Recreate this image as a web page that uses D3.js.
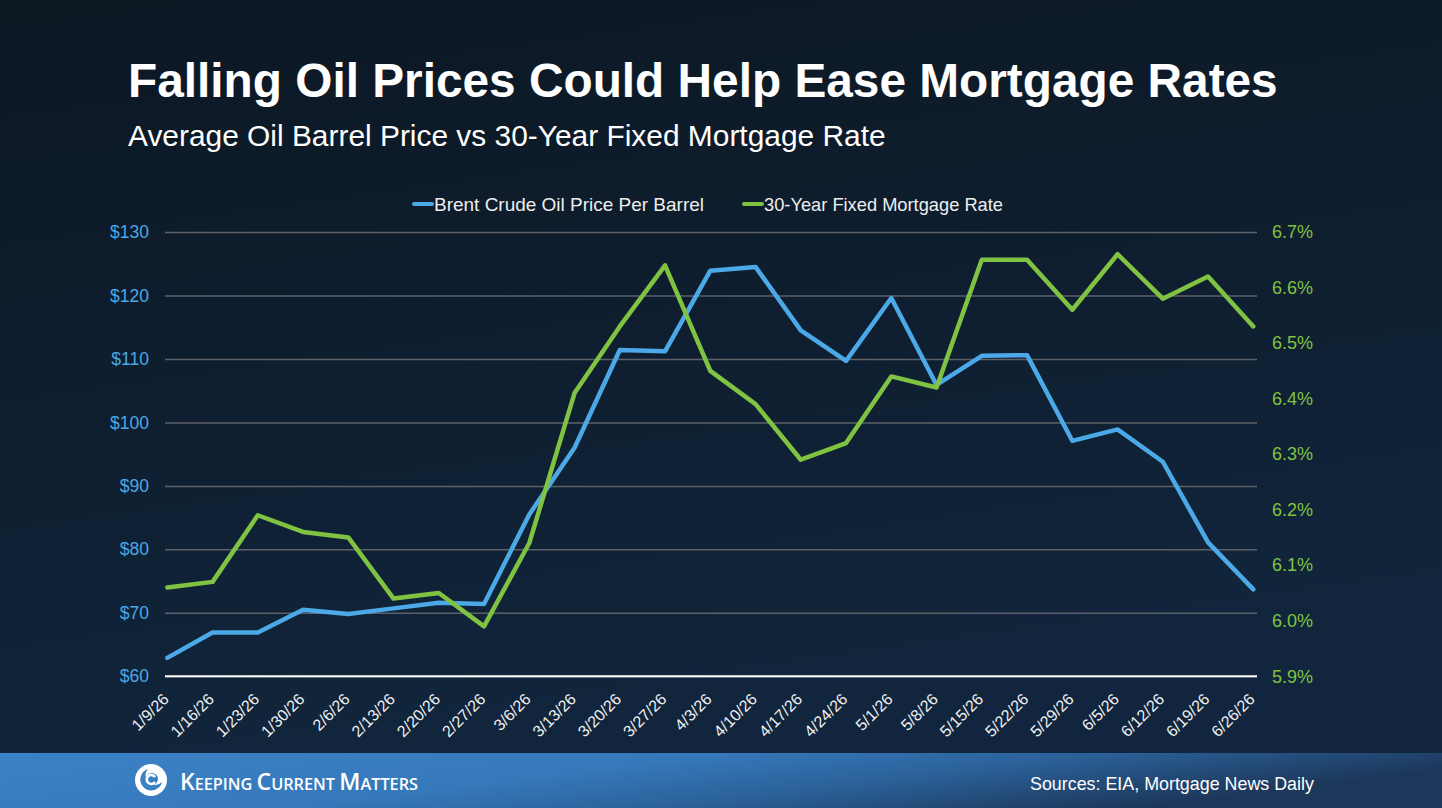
<!DOCTYPE html>
<html>
<head>
<meta charset="utf-8">
<script src="https://cdn.jsdelivr.net/npm/d3@7"></script>
<style>
	html, body { margin: 0; padding: 0; background: #0e1c2a; }
	svg { display: block; }
</style>
</head>
<body>
<svg id="chart" width="1442" height="808"></svg>
<script>
'use strict';

// weekly dates on the x axis
const dates = ['1/9/26', '1/16/26', '1/23/26', '1/30/26', '2/6/26', '2/13/26', '2/20/26', '2/27/26',
	'3/6/26', '3/13/26', '3/20/26', '3/27/26', '4/3/26', '4/10/26', '4/17/26', '4/24/26',
	'5/1/26', '5/8/26', '5/15/26', '5/22/26', '5/29/26', '6/5/26', '6/12/26', '6/19/26', '6/26/26'];

// Brent crude, $ per barrel (left axis)
const oilPrice = [62.9, 66.9, 66.9, 70.5, 69.8, 70.7, 71.6, 71.4,
	85.5, 96.0, 111.4, 111.2, 123.9, 124.5, 114.5, 109.7,
	119.6, 105.9, 110.5, 110.6, 97.1, 98.9, 93.8, 81.1, 73.7];

// 30-year fixed mortgage rate, % (right axis)
const mortgageRate = [6.06, 6.07, 6.19, 6.16, 6.15, 6.04, 6.05, 5.99,
	6.14, 6.41, 6.53, 6.64, 6.45, 6.39, 6.29, 6.32,
	6.44, 6.42, 6.65, 6.65, 6.56, 6.66, 6.58, 6.62, 6.53];

const oilTicks = [60, 70, 80, 90, 100, 110, 120, 130];
const rateTicks = [5.9, 6.0, 6.1, 6.2, 6.3, 6.4, 6.5, 6.6, 6.7];

const seriesNames = ['Brent Crude Oil Price Per Barrel', '30-Year Fixed Mortgage Rate'];

const W = 1442, H = 808;
const BLUE = '#4aa9e6', GREEN = '#80c241';
const FONT = '"Liberation Sans", Arial, Helvetica, sans-serif';

const plot = { left: 165, right: 1257, top: 232, bottom: 676.3 };

const svg = d3.select('#chart');
const defs = svg.append('defs');

/** background */
let bg = defs.append('linearGradient').attr('id', 'bgGrad')
	.attr('x1', 0).attr('y1', 0).attr('x2', 0.25).attr('y2', 1);
bg.append('stop').attr('offset', 0).attr('stop-color', '#0c1722');
bg.append('stop').attr('offset', 1).attr('stop-color', '#11263e');
svg.append('rect').attr('width', W).attr('height', H).attr('fill', 'url(#bgGrad)');

let ft = defs.append('linearGradient').attr('id', 'footGrad')
	.attr('x1', 0).attr('y1', 0).attr('x2', 1).attr('y2', 0.3);
ft.append('stop').attr('offset', 0).attr('stop-color', '#3b82c6');
ft.append('stop').attr('offset', 0.45).attr('stop-color', '#3679bb');
ft.append('stop').attr('offset', 0.7).attr('stop-color', '#2b6199');
ft.append('stop').attr('offset', 1).attr('stop-color', '#1c375a');
svg.append('rect').attr('y', 753).attr('width', W).attr('height', H - 753).attr('fill', 'url(#footGrad)');

// shrink/grow a text node's font so that it spans the wanted width
function fitWidth(sel, width){
	sel.each(function(){
		let t = d3.select(this);
		let size = parseFloat(t.attr('font-size'));
		let len = this.getComputedTextLength();
		t.attr('font-size', size * width / len);
	});
}

/** titles */
svg.append('text')
	.attr('x', 128).attr('y', 97)
	.attr('font-family', FONT).attr('font-weight', 'bold').attr('font-size', 46)
	.attr('fill', '#ffffff')
	.text('Falling Oil Prices Could Help Ease Mortgage Rates')
	.call(fitWidth, 1150);

svg.append('text')
	.attr('x', 128).attr('y', 146)
	.attr('font-family', FONT).attr('font-size', 26)
	.attr('fill', '#ffffff')
	.text('Average Oil Barrel Price vs 30-Year Fixed Mortgage Rate')
	.call(fitWidth, 758);

/** scales */
const x = d3.scalePoint().domain(dates).range([167.3, 1253.3]);
const yOil = d3.scaleLinear().domain([60, 130]).range([plot.bottom, plot.top]);
const yRate = d3.scaleLinear().domain([5.9, 6.7]).range([plot.bottom, plot.top]);

/** left axis + gridlines */
let gLeft = svg.append('g')
	.attr('transform', `translate(${plot.left},0)`)
	.call(d3.axisLeft(yOil)
		.tickValues(oilTicks)
		.tickSize(-(plot.right - plot.left))
		.tickPadding(16)
		.tickFormat(d => '$' + d));
gLeft.select('.domain').remove();
gLeft.selectAll('.tick line')
	.attr('stroke', '#5d6167').attr('stroke-width', 1.5);
gLeft.selectAll('.tick text')
	.attr('font-family', FONT).attr('font-size', 17.5).attr('fill', BLUE);

/** right axis */
let gRight = svg.append('g')
	.attr('transform', `translate(${plot.right},0)`)
	.call(d3.axisRight(yRate)
		.tickValues(rateTicks)
		.tickSize(0)
		.tickPadding(15)
		.tickFormat(d => d3.format('.1f')(d) + '%'));
gRight.select('.domain').remove();
gRight.selectAll('.tick text')
	.attr('font-family', FONT).attr('font-size', 18).attr('fill', GREEN);

/** bottom axis */
let gBottom = svg.append('g')
	.attr('transform', `translate(0,${plot.bottom})`)
	.call(d3.axisBottom(x).tickSize(0));
gBottom.select('.domain').remove();
gBottom.selectAll('.tick text')
	.attr('x', 0).attr('y', 0).attr('dy', '0.35em')
	.attr('text-anchor', 'end')
	.attr('transform', 'translate(-2,20) rotate(-45)')
	.attr('font-family', FONT).attr('font-size', 16).attr('fill', '#f2f2f2');

svg.append('line')
	.attr('x1', plot.left).attr('x2', plot.right)
	.attr('y1', plot.bottom).attr('y2', plot.bottom)
	.attr('stroke', '#ffffff').attr('stroke-width', 2);

/** series */
const oilLine = d3.line().x((d, i) => x(dates[i])).y(d => yOil(d));
const rateLine = d3.line().x((d, i) => x(dates[i])).y(d => yRate(d));

svg.append('path').datum(oilPrice)
	.attr('d', oilLine)
	.attr('fill', 'none').attr('stroke', BLUE).attr('stroke-width', 4.5)
	.attr('stroke-linejoin', 'round').attr('stroke-linecap', 'round');

svg.append('path').datum(mortgageRate)
	.attr('d', rateLine)
	.attr('fill', 'none').attr('stroke', GREEN).attr('stroke-width', 4.5)
	.attr('stroke-linejoin', 'round').attr('stroke-linecap', 'round');

/** legend */
const legendItems = [
	{ name: seriesNames[0], color: BLUE, x: 414, w: 270 },
	{ name: seriesNames[1], color: GREEN, x: 744, w: 239 }
];
let lg = svg.append('g').selectAll('g')
	.data(legendItems)
	.join('g')
		.attr('transform', d => `translate(${d.x},204)`);
lg.append('line')
	.attr('x1', 0).attr('x2', 18)
	.attr('stroke', d => d.color).attr('stroke-width', 4)
	.attr('stroke-linecap', 'round');
lg.append('text')
	.attr('x', 20).attr('dy', '0.35em')
	.attr('font-family', FONT).attr('font-size', 19).attr('fill', '#eeeeee')
	.text(d => d.name)
	.attr('textLength', d => d.w).attr('lengthAdjust', 'spacingAndGlyphs');

/** footer: logo + sources */
let logo = svg.append('g').attr('transform', 'translate(151,780)');
logo.append('circle').attr('r', 16).attr('fill', '#ffffff');
logo.append('path')
	.attr('d', 'M -3 -11 A 11 11 0 1 0 11 2 A 9 9 0 0 1 -3 -11 Z')
	.attr('fill', '#3a80c4');
logo.append('circle').attr('cx', 1).attr('cy', -1).attr('r', 6).attr('fill', '#3a80c4');
logo.append('path')
	.attr('d', 'M 4 -3 A 4.5 4.5 0 1 0 4 2')
	.attr('fill', 'none').attr('stroke', '#ffffff').attr('stroke-width', 2.6);

let brand = svg.append('text')
	.attr('x', 180).attr('y', 790)
	.attr('font-family', '"Open Sans", sans-serif').attr('font-weight', 600)
	.attr('fill', '#ffffff').attr('font-size', 18);
[['K', 24], ['EEPING ', 17], ['C', 24], ['URRENT ', 17], ['M', 24], ['ATTERS', 17]]
	.forEach(p => brand.append('tspan').attr('font-size', p[1]).text(p[0]));
brand.attr('textLength', 238).attr('lengthAdjust', 'spacingAndGlyphs');

svg.append('text')
	.attr('x', 1030).attr('y', 790)
	.attr('font-family', FONT).attr('font-size', 17)
	.attr('fill', '#ffffff')
	.text('Sources: EIA, Mortgage News Daily')
	.call(fitWidth, 284);
</script>
</body>
</html>
